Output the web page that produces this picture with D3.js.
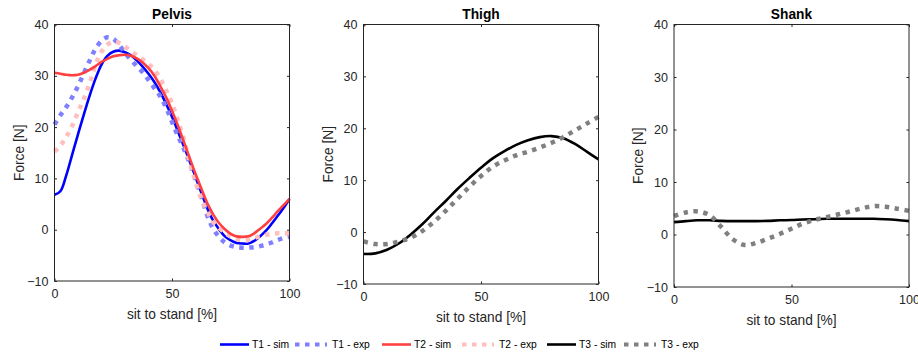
<!DOCTYPE html>
<html>
<head>
<meta charset="utf-8">
<script src="https://cdn.jsdelivr.net/npm/d3@7"></script>
<style>
  body { margin: 0; background: #fff; }
  svg { display: block; font-family: "Liberation Sans", Arial, sans-serif; }
</style>
</head>
<body>
<svg id="chart" width="918" height="354"></svg>
<script>
// x positions (% of sit to stand)
const pctFine = [0, 2.5, 5, 7.5, 10, 12.5, 15, 17.5, 20, 22.5, 25, 27.5, 30, 32.5, 35, 37.5, 40,
  42.5, 45, 47.5, 50, 52.5, 55, 57.5, 60, 62.5, 65, 67.5, 70, 72.5, 75, 77.5, 80, 82.5, 85, 87.5,
  90, 92.5, 95, 97.5, 100];
const pctCoarse = [0, 5, 10, 15, 20, 25, 30, 35, 40, 45, 50, 55, 60, 65, 70, 75, 80, 85, 90, 95, 100];

// Pelvis
const pelvisT1Sim = [6.8, 7.5, 10.6, 14.6, 18.6, 22.5, 26.2, 29.5, 32.2, 33.9, 34.7, 34.9, 34.6,
  34.0, 33.0, 31.8, 30.4, 28.8, 26.8, 24.5, 22.0, 19.2, 16.3, 13.4, 10.3, 7.2, 4.2, 1.8, 0.1,
  -1.3, -2.1, -2.6, -2.7, -2.7, -2.2, -1.3, -0.2, 1.2, 2.7, 4.3, 6.0];
const pelvisT1Exp = [20.5, 22.3, 23.9, 25.8, 28.0, 30.5, 33.0, 35.3, 36.8, 37.5, 37.2, 36.0, 34.5,
  33.1, 31.9, 30.7, 29.2, 27.6, 26.0, 23.8, 21.0, 18.3, 15.8, 13.0, 9.8, 6.4, 2.8, 0.2, -1.4,
  -2.5, -3.1, -3.4, -3.5, -3.5, -3.4, -3.2, -2.9, -2.5, -2.0, -1.6, -1.4];
const pelvisT2Sim = [30.6, 30.4, 30.2, 30.1, 30.2, 30.6, 31.2, 31.9, 32.7, 33.3, 33.8, 34.0, 34.1,
  33.9, 33.4, 32.6, 31.5, 30.0, 28.0, 25.8, 23.2, 20.3, 17.2, 14.0, 10.9, 8.0, 5.2, 3.0, 1.3,
  0.1, -0.8, -1.3, -1.4, -1.3, -0.7, 0.2, 1.1, 2.3, 3.6, 4.8, 6.0];
const pelvisT2Exp = [15.2, 16.4, 18.1, 20.2, 22.9, 25.5, 28.6, 32.2, 34.7, 36.1, 36.6, 36.4, 35.7,
  34.8, 34.0, 33.2, 32.3, 31.2, 29.4, 27.2, 24.6, 21.3, 17.6, 13.2, 9.4, 6.0, 3.6, 1.5, 0.4,
  -0.6, -1.3, -1.8, -2.0, -2.0, -1.6, -1.3, -1.0, -0.8, -0.7, -0.7, -0.7];

// Thigh
const thighT3Sim = [-4.2, -4.1, -3.4, -2.2, -0.5, 1.5, 3.8, 6.0, 8.3, 10.4, 12.4, 14.2, 15.6, 16.8,
  17.7, 18.3, 18.5, 18.1, 17.0, 15.5, 14.0];
const thighT3Exp = [-1.8, -2.3, -2.3, -1.8, -1.1, 0.2, 2.0, 4.1, 6.4, 8.7, 10.8, 12.6, 13.8, 14.8,
  15.5, 16.3, 17.2, 18.3, 19.6, 20.9, 22.2];

// Shank
const shankT3Sim = [2.35, 2.55, 2.7, 2.7, 2.6, 2.55, 2.55, 2.55, 2.6, 2.7, 2.75, 2.85, 2.9, 3.0,
  3.0, 3.0, 3.0, 3.0, 2.9, 2.75, 2.55];
const shankT3Exp = [3.5, 4.2, 4.4, 3.7, 1.5, -0.9, -2.0, -1.6, -0.8, 0.1, 1.1, 2.1, 2.8, 3.3, 3.85,
  4.4, 5.0, 5.4, 5.3, 4.9, 4.5];

const titles = ['Pelvis', 'Thigh', 'Shank'];
const xTicks = [0, 50, 100];
const yTicks = [-10, 0, 10, 20, 30, 40];
const legendLabels = ['T1 - sim', 'T1 - exp', 'T2 - sim', 'T2 - exp', 'T3 - sim', 'T3 - exp'];

const styles = {
  'T1 - sim': { color: '#0000ff', dotted: false },
  'T1 - exp': { color: '#8080ff', dotted: true },
  'T2 - sim': { color: '#ff4040', dotted: false },
  'T2 - exp': { color: '#ffbfbf', dotted: true },
  'T3 - sim': { color: '#000000', dotted: false },
  'T3 - exp': { color: '#808080', dotted: true }
};

const panels = [
  { left: 54.5, bottom: 281, x: pctFine,
    series: [['T1 - sim', pelvisT1Sim], ['T1 - exp', pelvisT1Exp], ['T2 - exp', pelvisT2Exp], ['T2 - sim', pelvisT2Sim]] },
  { left: 363.5, bottom: 284, x: pctCoarse,
    series: [['T3 - sim', thighT3Sim], ['T3 - exp', thighT3Exp]] },
  { left: 674, bottom: 287, x: pctCoarse,
    series: [['T3 - sim', shankT3Sim], ['T3 - exp', shankT3Exp]] }
];

const svg = d3.select('#chart');
const axTop = 24.5, w = 235;
const axisColor = '#262626';

panels.forEach((p, i) => {
  const h = p.bottom - axTop;
  const g = svg.append('g').attr('transform', `translate(${p.left},${axTop})`);
  const x = d3.scaleLinear().domain([0, 100]).range([0, w]);
  const y = d3.scaleLinear().domain([-10, 40]).range([h, 0]);

  // data lines
  const line = d3.line().x(d => x(d[0])).y(d => y(d[1])).curve(d3.curveCatmullRom.alpha(0.5));
  p.series.forEach(([name, vals]) => {
    const st = styles[name];
    g.append('path')
      .datum(p.x.map((v, k) => [v, vals[k]]))
      .attr('d', line)
      .attr('fill', 'none')
      .attr('stroke', st.color)
      .attr('stroke-width', st.dotted ? 4.5 : 2.6)
      .attr('stroke-dasharray', st.dotted ? '4.5,5.5' : null)
      .attr('stroke-linejoin', 'round');
  });

  // box + ticks
  const ax = (sel) => {
    sel.select('.domain').remove();
    sel.selectAll('line').attr('stroke', axisColor);
    sel.selectAll('text').attr('fill', axisColor).style('font-size', '12.5px').style('font-family', '"Liberation Sans", Arial, sans-serif');
  };
  g.append('g').attr('transform', `translate(0,${h})`)
    .call(d3.axisBottom(x).tickValues(xTicks).tickSizeInner(-2.5).tickSizeOuter(0).tickPadding(8))
    .call(ax);
  g.append('g')
    .call(d3.axisTop(x).tickValues(xTicks).tickSizeInner(-2.5).tickSizeOuter(0).tickFormat(''))
    .call(ax);
  g.append('g')
    .call(d3.axisLeft(y).tickValues(yTicks).tickSizeInner(-2.5).tickSizeOuter(0).tickPadding(6))
    .call(ax);
  g.append('g').attr('transform', `translate(${w},0)`)
    .call(d3.axisRight(y).tickValues(yTicks).tickSizeInner(-2.5).tickSizeOuter(0).tickFormat(''))
    .call(ax);
  g.append('rect')
    .attr('x', 0).attr('y', 0).attr('width', w).attr('height', h)
    .attr('fill', 'none').attr('stroke', axisColor).attr('stroke-width', 1);

  g.append('text')
    .attr('x', w / 2).attr('y', -6)
    .attr('text-anchor', 'middle')
    .style('font-size', '13.75px').style('font-weight', 'bold')
    .attr('fill', '#000')
    .text(titles[i]);
  g.append('text')
    .attr('x', w / 2).attr('y', h + 38)
    .attr('text-anchor', 'middle')
    .style('font-size', '13.75px')
    .attr('fill', axisColor)
    .text('sit to stand [%]');
  g.append('text')
    .attr('transform', `translate(-31,${h / 2}) rotate(-90)`)
    .attr('text-anchor', 'middle')
    .style('font-size', '13.75px')
    .attr('fill', axisColor)
    .text('Force [N]');
});

// legend
const legendX = [220, 295, 382, 462, 547, 624];
const legendY = 344.5;
const lg = svg.append('g');
legendLabels.forEach((name, k) => {
  const st = styles[name];
  const x0 = legendX[k];
  lg.append('line')
    .attr('x1', x0).attr('x2', x0 + (st.dotted ? 32 : 29))
    .attr('y1', legendY).attr('y2', legendY)
    .attr('stroke', st.color)
    .attr('stroke-width', st.dotted ? 4 : 2.6)
    .attr('stroke-dasharray', st.dotted ? '4.5,5.5' : null);
  lg.append('text')
    .attr('x', x0 + (st.dotted ? 37 : 32)).attr('y', legendY + 3.8)
    .style('font-size', '10.3px')
    .attr('fill', '#000')
    .text(name);
});
</script>
</body>
</html>
